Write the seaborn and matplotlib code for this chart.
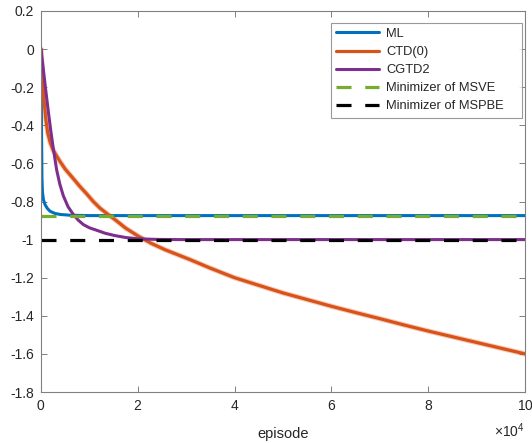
import matplotlib
matplotlib.use("Agg")
import matplotlib.pyplot as plt
import pandas as pd
import seaborn as sns

# ---------------- data ----------------
ml_episode = [0, 100, 200, 300, 500, 830, 1300, 1860, 2800, 3930, 6000, 10000, 30000, 60000, 100000]
ml_value = [0.0, -0.40, -0.68, -0.75, -0.79, -0.816, -0.836, -0.851, -0.862, -0.868, -0.872, -0.874, -0.874, -0.874, -0.874]

ctd_episode = [0, 200, 400, 700, 1000, 1400, 1900, 2500, 3200, 3930, 5000, 6680, 8000, 9440, 10800,
               12190, 13700, 15290, 17500, 20100, 22800, 25620, 30800, 35000, 40000, 45000, 50000,
               55000, 60000, 65000, 70000, 75000, 80000, 85000, 90000, 95000, 100000]
ctd_value = [0.0, -0.10, -0.19, -0.29, -0.37, -0.44, -0.49, -0.53, -0.56, -0.59, -0.63, -0.68, -0.72, -0.76, -0.80,
             -0.835, -0.865, -0.895, -0.94, -0.982, -1.02, -1.053, -1.105, -1.15, -1.20, -1.24, -1.28,
             -1.315, -1.35, -1.383, -1.415, -1.448, -1.48, -1.51, -1.54, -1.57, -1.60]

cgtd_episode = [0, 500, 1000, 1500, 2000, 2500, 3240, 3900, 4610, 5600, 6680, 7700, 8740, 10000, 11500,
                13300, 15290, 17500, 20100, 24000, 28370, 100000]
cgtd_value = [0.0, -0.11, -0.22, -0.325, -0.425, -0.515, -0.635, -0.71, -0.77, -0.828, -0.868, -0.898, -0.921,
              -0.938, -0.951, -0.967, -0.979, -0.989, -0.996, -0.999, -1.0, -1.0]

msve_value = -0.874
mspbe_value = -1.0
episode_range = [0, 100000]

labels = ["ML", "CTD(0)", "CGTD2", "Minimizer of MSVE", "Minimizer of MSPBE"]
x_ticks = [0, 20000, 40000, 60000, 80000, 100000]
y_ticks = [0.2, 0, -0.2, -0.4, -0.6, -0.8, -1, -1.2, -1.4, -1.6, -1.8]
x_label = "episode"

# ---------------- style ----------------
sns.set_style("ticks")
plt.rcParams["font.family"] = ["Liberation Sans", "DejaVu Sans"]
plt.rcParams["axes.unicode_minus"] = False
plt.rcParams["mathtext.fontset"] = "custom"
plt.rcParams["mathtext.rm"] = "Liberation Sans"
plt.rcParams["mathtext.it"] = "Liberation Sans"

colors = ["#0072BD", "#D95319", "#7E2F8E", "#77AC30", "#000000"]
axis_col = "#808080"
text_col = "#262626"
dash = (0, (4.7, 4.3))

fig = plt.figure(figsize=(5.32, 4.43), dpi=100)
ax = fig.add_axes([41 / 532, 1 - 392 / 443, 484 / 532, 381 / 443])

sns.lineplot(x=ml_episode, y=ml_value, ax=ax, color=colors[0], lw=2.2, label=labels[0], sort=False)
# faint band under CTD(0) line
sns.lineplot(x=ctd_episode, y=ctd_value, ax=ax, color=colors[1], lw=3.8, alpha=0.3, sort=False)
sns.lineplot(x=ctd_episode, y=ctd_value, ax=ax, color=colors[1], lw=2.3, label=labels[1], sort=False)
sns.lineplot(x=cgtd_episode, y=cgtd_value, ax=ax, color=colors[2], lw=2.2, label=labels[2], sort=False)
sns.lineplot(x=episode_range, y=[msve_value, msve_value], ax=ax, color=colors[3], lw=2.3,
             linestyle=dash, label=labels[3], sort=False)
sns.lineplot(x=episode_range, y=[mspbe_value, mspbe_value], ax=ax, color=colors[4], lw=2.3,
             linestyle=dash, label=labels[4], sort=False)

ax.set_xlim(0, 100000)
ax.set_ylim(-1.8, 0.2)
ax.set_xticks(x_ticks)
ax.set_yticks(y_ticks)
ax.set_yticklabels(["%g" % v for v in y_ticks])
ax.ticklabel_format(axis="x", style="sci", scilimits=(4, 4), useMathText=True)
ax.xaxis.get_offset_text().set_fontsize(10)
ax.xaxis.get_offset_text().set_color(text_col)
ax.xaxis.OFFSETTEXTPAD = 6

ax.set_xlabel(x_label, fontsize=10.5, color=text_col, labelpad=10)
ax.set_ylabel("")

for s in ax.spines.values():
    s.set_visible(True)
    s.set_color(axis_col)
    s.set_linewidth(0.8)
ax.tick_params(direction="in", length=4, width=0.7, color=axis_col, labelcolor=text_col,
               labelsize=10, top=True, right=True, pad=5)

leg = ax.legend(loc="upper right", bbox_to_anchor=(0.599, 0.0, 0.3948, 0.969), mode="expand",
                borderaxespad=0, fontsize=9.3, frameon=True, fancybox=False, handlelength=3.3,
                handletextpad=0.6, labelspacing=0.47, borderpad=0.4)
leg.get_frame().set_edgecolor(axis_col)
leg.get_frame().set_linewidth(0.8)
for t in leg.get_texts():
    t.set_color(text_col)

fig.savefig("out.png", dpi=100)
